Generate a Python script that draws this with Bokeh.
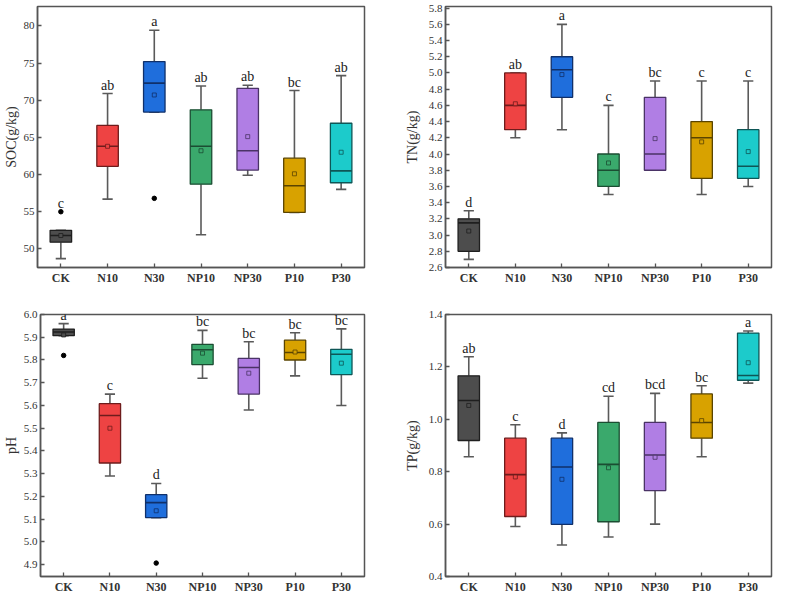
from bokeh.plotting import figure
from bokeh.layouts import column, row
from bokeh.models import ColumnDataSource, FixedTicker, PrintfTickFormatter, Range1d
from bokeh.transform import dodge
from bokeh.core.properties import value
from bokeh.embed import file_html
from bokeh.resources import INLINE

categories = ["CK", "N10", "N30", "NP10", "NP30", "P10", "P30"]

# SOC (g/kg)
soc_lo = [48.7, 56.7, 68.4, 51.9, 59.9, 54.9, 58.0]
soc_q1 = [50.9, 61.1, 68.4, 58.7, 60.6, 54.9, 58.9]
soc_med = [51.8, 63.8, 72.3, 63.8, 63.2, 58.5, 60.5]
soc_q3 = [52.5, 66.6, 75.2, 68.7, 71.6, 62.2, 66.9]
soc_hi = [52.5, 70.9, 79.4, 71.9, 72.0, 71.3, 73.3]
soc_mean = [51.8, 63.8, 70.7, 63.2, 65.1, 60.1, 63.0]
soc_letters = ["c", "ab", "a", "ab", "ab", "bc", "ab"]
soc_out_cat = ["CK", "N30"]
soc_out_val = [55.0, 56.8]
soc_ticks = [50, 55, 60, 65, 70, 75, 80]

# TN (g/kg)
tn_lo = [2.70, 4.20, 4.30, 3.50, 3.80, 3.50, 3.60]
tn_q1 = [2.80, 4.30, 4.70, 3.60, 3.80, 3.70, 3.70]
tn_med = [3.15, 4.60, 5.04, 3.80, 4.00, 4.20, 3.85]
tn_q3 = [3.20, 5.00, 5.20, 4.00, 4.70, 4.40, 4.30]
tn_hi = [3.30, 5.00, 5.60, 4.60, 4.90, 4.90, 4.90]
tn_mean = [3.05, 4.62, 4.98, 3.89, 4.19, 4.15, 4.03]
tn_letters = ["d", "ab", "a", "c", "bc", "c", "c"]
tn_out_cat = []
tn_out_val = []
tn_ticks = [2.6, 2.8, 3.0, 3.2, 3.4, 3.6, 3.8, 4.0, 4.2, 4.4, 4.6, 4.8, 5.0, 5.2, 5.4, 5.6, 5.8]

# pH
ph_lo = [5.907, 5.29, 5.107, 5.72, 5.58, 5.73, 5.60]
ph_q1 = [5.907, 5.347, 5.107, 5.78, 5.65, 5.80, 5.736]
ph_med = [5.923, 5.556, 5.173, 5.845, 5.767, 5.833, 5.825]
ph_q3 = [5.936, 5.608, 5.208, 5.869, 5.807, 5.887, 5.847]
ph_hi = [5.96, 5.65, 5.257, 5.93, 5.88, 5.92, 5.937]
ph_mean = [5.91, 5.50, 5.137, 5.83, 5.742, 5.835, 5.786]
ph_letters = ["a", "c", "d", "bc", "bc", "bc", "bc"]
ph_out_cat = ["CK", "N30"]
ph_out_val = [5.82, 4.907]
ph_ticks = [4.9, 5.0, 5.1, 5.2, 5.3, 5.4, 5.5, 5.6, 5.7, 5.8, 5.9, 6.0]

# TP (g/kg)
tp_lo = [0.857, 0.591, 0.52, 0.551, 0.60, 0.857, 1.138]
tp_q1 = [0.919, 0.629, 0.599, 0.609, 0.728, 0.928, 1.149]
tp_med = [1.072, 0.789, 0.818, 0.828, 0.864, 0.988, 1.167]
tp_q3 = [1.166, 0.928, 0.928, 0.988, 0.988, 1.097, 1.329]
tp_hi = [1.239, 0.979, 0.948, 1.088, 1.099, 1.128, 1.337]
tp_mean = [1.053, 0.78, 0.771, 0.815, 0.855, 0.995, 1.216]
tp_letters = ["ab", "c", "d", "cd", "bcd", "bc", "a"]
tp_out_cat = []
tp_out_val = []
tp_ticks = [0.4, 0.6, 0.8, 1.0, 1.2, 1.4]

FILLS = ["#4d4d4d", "#ee4343", "#1f6edc", "#3aa96c", "#b07ee4", "#d8a200", "#1ccbcb"]
LINES = ["#1f1f1f", "#6e1c1c", "#10306a", "#1b4d32", "#4a3366", "#5a4400", "#0e5656"]
FRAME = "#555555"
WHISK = "#5a5a5a"
SERIF = "Liberation Serif"


def panel(lo, q1, med, q3, hi, mean, letters, out_cat, out_val, ylab, yr, ticks, fmt,
          width, height, bl, br, bt, bb, label_standoff):
    p = figure(x_range=categories, y_range=Range1d(yr[0], yr[1]), width=width, height=height,
               output_backend="svg", toolbar_location=None,
               min_border_left=bl, min_border_right=br, min_border_top=bt, min_border_bottom=bb)
    top = list(hi)
    for c, v in zip(out_cat, out_val):
        i = categories.index(c)
        if v > top[i]:
            top[i] = v
    src = ColumnDataSource(dict(cat=categories, lo=lo, q1=q1, med=med, q3=q3, hi=hi,
                                mean=mean, letter=letters, top=top, fill=FILLS, line=LINES))
    xl = dodge("cat", -0.11, range=p.x_range)
    xr = dodge("cat", 0.11, range=p.x_range)
    p.segment(x0="cat", y0="q3", x1="cat", y1="hi", line_color=WHISK, line_width=1.6, source=src)
    p.segment(x0="cat", y0="lo", x1="cat", y1="q1", line_color=WHISK, line_width=1.6, source=src)
    p.segment(x0=xl, y0="hi", x1=xr, y1="hi", line_color=WHISK, line_width=1.6, source=src)
    p.segment(x0=xl, y0="lo", x1=xr, y1="lo", line_color=WHISK, line_width=1.6, source=src)
    p.vbar(x="cat", width=0.46, bottom="q1", top="q3", fill_color="fill", line_color="line",
           line_width=1.3, source=src)
    p.segment(x0=dodge("cat", -0.23, range=p.x_range), y0="med",
              x1=dodge("cat", 0.23, range=p.x_range), y1="med",
              line_color="line", line_width=1.6, source=src)
    p.scatter(x="cat", y="mean", marker="square", size=4, fill_color="fill", line_color="line",
              line_width=0.8, source=src)
    if out_cat:
        p.scatter(x=out_cat, y=out_val, marker="circle", size=4.5, color="black")
    p.text(x="cat", y="top", text="letter", text_font=value(SERIF), text_font_size="14px",
           text_align="center", text_baseline="bottom", y_offset=-1, text_color="#222222",
           source=src)

    p.xgrid.visible = False
    p.ygrid.visible = False
    p.outline_line_color = FRAME
    p.outline_line_width = 1.5
    p.outline_line_alpha = 1.0
    p.background_fill_color = "white"
    p.border_fill_color = "white"
    for ax in (p.xaxis[0], p.yaxis[0]):
        ax.axis_line_color = FRAME
        ax.axis_line_width = 1.5
        ax.major_tick_in = 4
        ax.major_tick_out = 0
        ax.minor_tick_in = 0
        ax.minor_tick_out = 0
        ax.major_tick_line_color = FRAME
        ax.major_tick_line_width = 1.3
        ax.major_label_text_font = SERIF
        ax.major_label_text_color = "#333333"
    p.xaxis.major_label_text_font_size = "12px"
    p.xaxis.major_label_text_font_style = "bold"
    p.xaxis.major_label_standoff = 3
    p.yaxis.major_label_text_font_size = "11px"
    p.yaxis.major_label_standoff = 3
    p.yaxis.ticker = FixedTicker(ticks=ticks)
    p.yaxis.formatter = PrintfTickFormatter(format=fmt)
    p.yaxis.axis_label = ylab
    p.yaxis.axis_label_text_font = SERIF
    p.yaxis.axis_label_text_font_size = "14px"
    p.yaxis.axis_label_text_font_style = "normal"
    p.yaxis.axis_label_text_color = "#333333"
    p.yaxis.axis_label_standoff = label_standoff
    return p


p1 = panel(soc_lo, soc_q1, soc_med, soc_q3, soc_hi, soc_mean, soc_letters, soc_out_cat, soc_out_val,
           "SOC(g/kg)", (47.5, 82.6), soc_ticks, "%d", 387, 292, 30, 23, 6, 25, 2)
p2 = panel(tn_lo, tn_q1, tn_med, tn_q3, tn_hi, tn_mean, tn_letters, tn_out_cat, tn_out_val,
           "TN(g/kg)", (2.6, 5.82), tn_ticks, "%.1f", 388, 292, 58, 4, 6, 25, 6)
p3 = panel(ph_lo, ph_q1, ph_med, ph_q3, ph_hi, ph_mean, ph_letters, ph_out_cat, ph_out_val,
           "pH", (4.848, 6.0), ph_ticks, "%.1f", 387, 304, 30, 23, 22, 16, 2)
p4 = panel(tp_lo, tp_q1, tp_med, tp_q3, tp_hi, tp_mean, tp_letters, tp_out_cat, tp_out_val,
           "TP(g/kg)", (0.4, 1.4), tp_ticks, "%.1f", 388, 304, 58, 4, 22, 16, 6)

layout = column(row(p1, p2), row(p3, p4))
open("out.html", "w").write(file_html(layout, INLINE))
